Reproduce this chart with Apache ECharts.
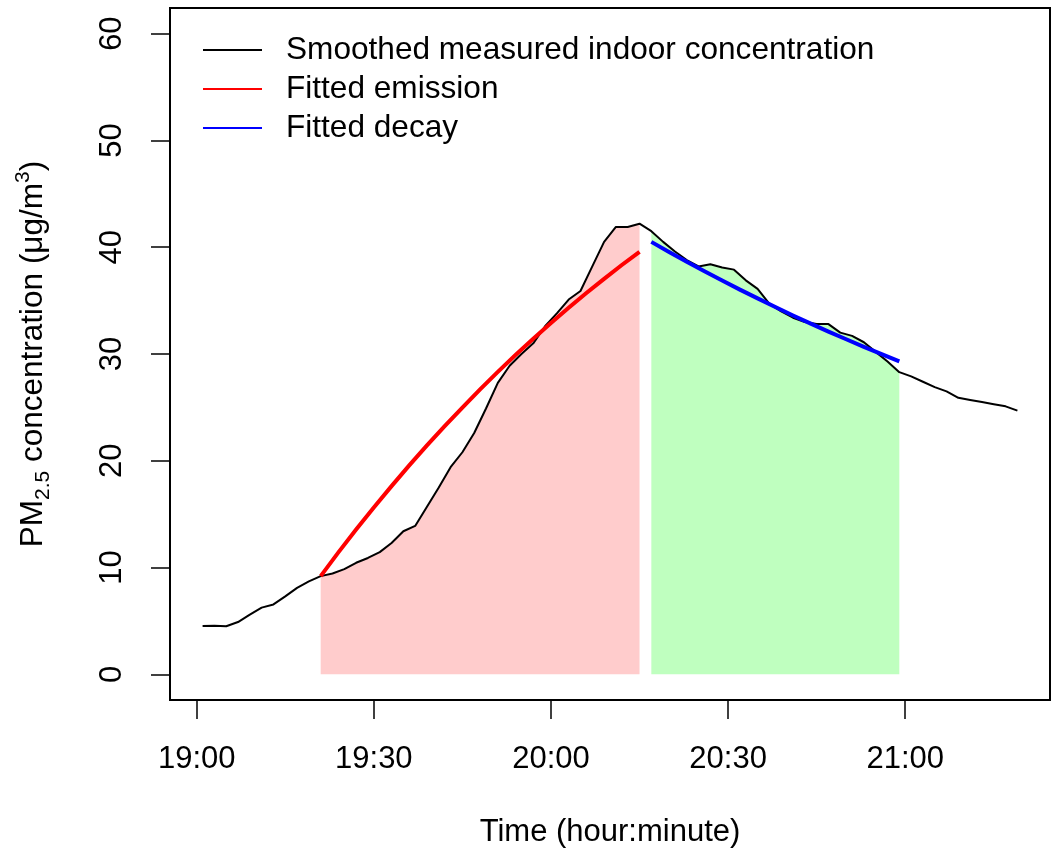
<!DOCTYPE html>
<html>
<head>
<meta charset="utf-8">
<script src="https://cdn.jsdelivr.net/npm/echarts@6/dist/echarts.min.js"></script>
<style>html,body{margin:0;padding:0;background:#fff}#c{width:1053px;height:854px}</style>
</head>
<body>
<div id="c"></div>
<script>
// ---- data ----
const measuredTimes = ['19:01','19:03','19:05','19:07','19:09','19:11','19:13','19:15','19:17','19:19',
  '19:21','19:23','19:25','19:27','19:29','19:31','19:33','19:35','19:37','19:39',
  '19:41','19:43','19:45','19:47','19:49','19:51','19:53','19:55','19:57','19:59',
  '20:01','20:03','20:05','20:07','20:09','20:11','20:13','20:15','20:17','20:19',
  '20:21','20:23','20:25','20:27','20:29','20:31','20:33','20:35','20:37','20:39',
  '20:41','20:43','20:45','20:47','20:49','20:51','20:53','20:55','20:57','20:59',
  '21:01','21:03','21:05','21:07','21:09','21:11','21:13','21:15','21:17','21:19'];
const measuredConc = [4.53,4.55,4.5,4.9,5.6,6.25,6.55,7.3,8.1,8.7,
  9.2,9.45,9.85,10.45,10.9,11.45,12.3,13.4,13.9,15.7,
  17.5,19.4,20.8,22.6,24.9,27.3,28.9,30.0,31.0,32.6,
  33.8,35.1,35.9,38.2,40.5,41.9,41.9,42.2,41.5,40.5,
  39.6,38.8,38.2,38.4,38.1,37.9,36.9,36.1,34.7,34.0,
  33.4,33.0,32.8,32.8,32.0,31.7,31.1,30.2,29.3,28.3,
  27.9,27.4,26.9,26.5,25.9,25.7,25.5,25.3,25.1,24.7];

const emissionTimes = ['19:21','19:24','19:27','19:30','19:33','19:36','19:39','19:42','19:45','19:48',
  '19:51','19:54','19:57','20:00','20:03','20:06','20:09','20:12','20:15'];
const emissionConc = [9.20,11.42,13.56,15.63,17.63,19.57,21.44,23.24,24.99,26.68,
  28.32,29.90,31.42,32.90,34.33,35.71,37.04,38.33,39.57];

const decayTimes = ['20:17','20:20','20:23','20:26','20:29','20:32','20:35','20:38','20:41','20:44',
  '20:47','20:50','20:53','20:56','20:59'];
const decayConc = [40.50,39.56,38.64,37.75,36.88,36.03,35.21,34.40,33.61,32.85,32.10,31.38,30.67,29.98,29.30];

const xTickLabels = ['19:00','19:30','20:00','20:30','21:00'];
const yTickValues = [0,10,20,30,40,50,60];

const seriesNames = ['Smoothed measured indoor concentration','Fitted emission','Fitted decay'];

// ---- helpers ----
const BASE_HOUR = 19;
function toMin(s){ const p = s.split(':'); return (+p[0]-BASE_HOUR)*60 + (+p[1]); }
function pairs(ts, vs){ return ts.map((t,i)=>[toMin(t), vs[i]]); }
const measured = pairs(measuredTimes, measuredConc);
function measuredWithin(ts){ const a = toMin(ts[0]), b = toMin(ts[ts.length-1]); return measured.filter(p=>p[0]>=a && p[0]<=b); }
const xTickValues = xTickLabels.map(toMin);
const tMin = toMin(measuredTimes[0]), tMax = toMin(measuredTimes[measuredTimes.length-1]);
const xPad = (tMax - tMin)*0.04;
const yPad = (60-0)*0.04;

const FONT = "'Liberation Sans', Arial, Helvetica, sans-serif";
const chart = echarts.init(document.getElementById('c'), null, {renderer:'canvas'});
chart.setOption({
  animation: false,
  backgroundColor: '#fff',
  textStyle: {fontFamily: FONT, color: '#000'},
  grid: {left:170, right:3, top:8, bottom:154, show:true, borderColor:'#000', borderWidth:2, backgroundColor:'transparent'},
  legend: {
    data: seriesNames, orient:'vertical', left:198, top:29, itemWidth:59, itemHeight:2, itemGap:7,
    icon:'rect', selectedMode:false,
    textStyle:{fontFamily:FONT, fontSize:31.6, color:'#000', lineHeight:31.5, padding:[0,0,0,19]}
  },
  xAxis: {
    type:'value', min: tMin - xPad, max: tMax + xPad,
    name:'Time (hour:minute)', nameLocation:'middle', nameGap:117,
    nameTextStyle:{fontFamily:FONT, fontSize:31, color:'#000'},
    axisLine:{show:false, onZero:false}, splitLine:{show:false},
    axisTick:{show:true, inside:false, length:19, customValues:xTickValues, lineStyle:{color:'#000', width:1.5}},
    axisLabel:{show:true, margin:44, fontFamily:FONT, fontSize:31, color:'#000', customValues:xTickValues,
      formatter: v => { const i = xTickValues.indexOf(v); return i>=0 ? xTickLabels[i] : ''; }}
  },
  yAxis: {
    type:'value', min: -yPad, max: 60 + yPad,
    name:'{a|PM}{b|2.5}{a| concentration (μg/m}{c|3}{a|)}',
    nameLocation:'middle', nameRotate:90, nameGap:121,
    nameTextStyle:{fontFamily:FONT, color:'#000',
      rich:{
        a:{fontFamily:FONT, fontSize:31.5, lineHeight:31, color:'#000'},
        b:{fontFamily:FONT, fontSize:21, lineHeight:21, padding:[20,0,0,0], color:'#000'},
        c:{fontFamily:FONT, fontSize:21, lineHeight:21, padding:[0,0,20,0], color:'#000'}
      }},
    axisLine:{show:false, onZero:false}, splitLine:{show:false},
    axisTick:{show:true, inside:false, length:19, customValues:yTickValues, lineStyle:{color:'#000', width:1.5}},
    axisLabel:{show:true, margin:42, rotate:90, fontFamily:FONT, fontSize:31, color:'#000', customValues:yTickValues,
      formatter: v => String(v)}
  },
  series: [
    {type:'line', name:'emission-area', data: measuredWithin(emissionTimes), showSymbol:false, symbol:'none',
      lineStyle:{width:0}, areaStyle:{color:'#FFCCCC', opacity:1}, silent:true, z:1},
    {type:'line', name:'decay-area', data: measuredWithin(decayTimes), showSymbol:false, symbol:'none',
      lineStyle:{width:0}, areaStyle:{color:'#BFFFBF', opacity:1}, silent:true, z:1},
    {type:'line', name: seriesNames[0], data: measured, showSymbol:false, symbol:'none',
      color:'#000', lineStyle:{color:'#000', width:2}, z:3},
    {type:'line', name: seriesNames[1], data: pairs(emissionTimes, emissionConc), showSymbol:false, symbol:'none',
      smooth:false, color:'#FF0000', lineStyle:{color:'#FF0000', width:4, join:'round'}, z:4},
    {type:'line', name: seriesNames[2], data: pairs(decayTimes, decayConc), showSymbol:false, symbol:'none',
      smooth:false, color:'#0000FF', lineStyle:{color:'#0000FF', width:4, join:'round'}, z:4}
  ]
});
</script>
</body>
</html>
